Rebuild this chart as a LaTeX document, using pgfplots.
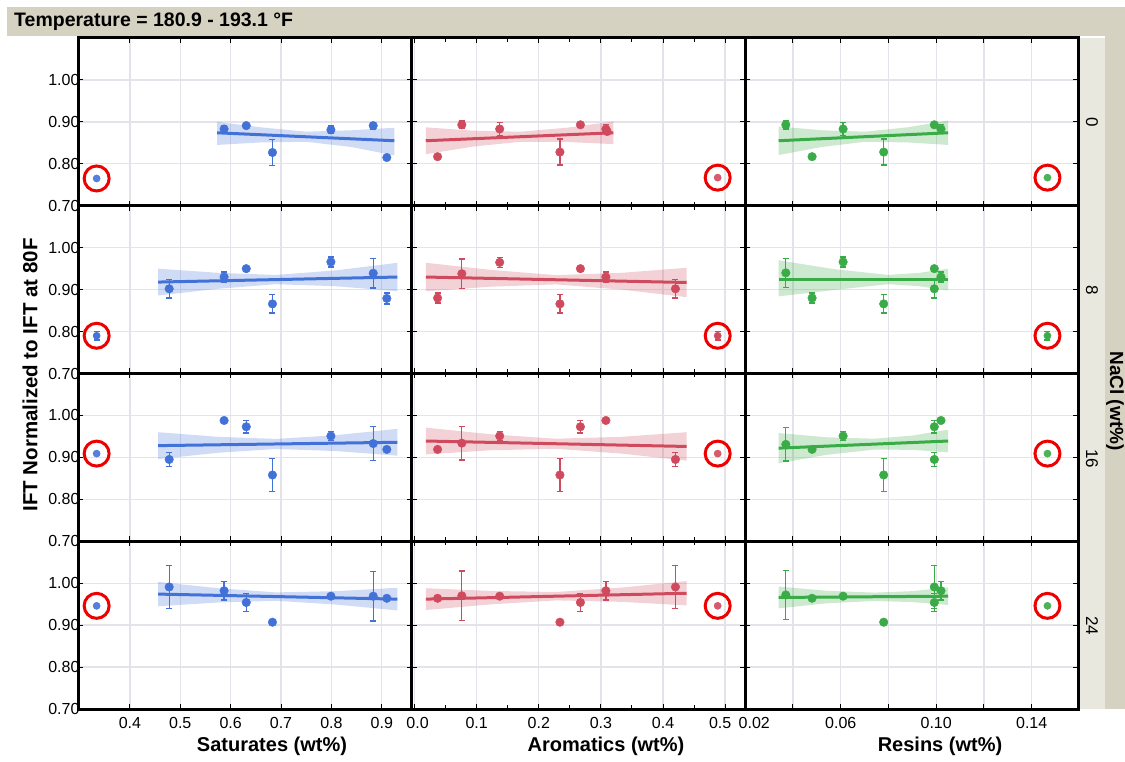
\documentclass[border=0pt]{standalone}
\usepackage{fontspec}
\setmainfont{Liberation Sans}
\usepackage{pgfplots}
\pgfplotsset{compat=1.18}
\definecolor{cb}{HTML}{4272D8}
\definecolor{cr}{HTML}{D04A5E}
\definecolor{cg}{HTML}{39AB47}
\definecolor{gridc}{HTML}{E3E3E9}
\definecolor{tanbar}{HTML}{D6D2C2}
\definecolor{stripc}{HTML}{E9E8DF}
\definecolor{ringc}{HTML}{EE0000}
\pgfplotsset{
  panel/.style={scale only axis, height=167.75pt, ymin=0.7, ymax=1.1,
    ytick={0.7,0.8,0.9,1.0}, yticklabels={},
    grid=major, major grid style={draw=gridc, line width=1.3pt},
    axis line style={line width=3pt, black},
    tick style={line width=1pt, black}, major tick length=5pt, minor tick length=4pt,
    tick label style={font=\fontsize{16}{18}\selectfont},
    /pgf/number format/assume math mode=true,
    xticklabel style={yshift=-5pt},
    yticklabel style={xshift=5pt},
    anchor=south west},
  col1/.style={width=333.5pt, xmin=0.297, xmax=0.959, xtick={0.4,0.5,0.6,0.7,0.8,0.9},
    xticklabels={0.4,0.5,0.6,0.7,0.8,0.9}, yticklabels={0.70,0.80,0.90,1.00}},
  col2/.style={width=333.5pt, xmin=-0.005, xmax=0.532, xtick={0,0.1,0.2,0.3,0.4,0.5},
    minor xtick={0.05,0.15,0.25,0.35,0.45},
    xticklabels={\hspace*{6pt}0.0,0.1,0.2,0.3,0.4,0.5\hspace*{10pt}}},
  col3/.style={width=333pt, xmin=0.0199, xmax=0.1594, xtick={0.02,0.04,0.06,0.08,0.10,0.12,0.14},
    xticklabels={\hspace*{18pt}0.02,,0.06,,0.10,,0.14}},
  nox/.style={xticklabels={}},
  band/.style={draw=none, fill=#1, fill opacity=0.25},
  fit/.style={#1, line width=3pt},
  pts/.style={#1, only marks, mark=*, mark size=4.3pt,
    error bars/y dir=both, error bars/y explicit,
    error bars/error mark=-,
    error bars/error bar style={line width=1.3pt, #1},
    error bars/error mark options={rotate=90, mark size=3pt, line width=1.3pt, #1}},
  outl/.style={#1, only marks, mark=*, mark size=3.6pt, opacity=0.9},
  ring/.style={ringc, only marks, mark=o, mark size=12.5pt, line width=3pt},
}
\begin{document}
\begin{tikzpicture}
\useasboundingbox (0pt,0pt) rectangle (1125pt,761pt);
% ================= ROW 1 (NaCl 0) =================
\begin{axis}[panel, col1, nox, at={(78pt,555.25pt)}]
\addplot[band=cb] coordinates {(0.573,0.845)(0.66,0.851)(0.75,0.8525)(0.84,0.840)(0.925,0.820)(0.925,0.886)(0.84,0.880)(0.75,0.8765)(0.66,0.887)(0.573,0.900)};
\addplot[fit=cb] coordinates {(0.573,0.874)(0.925,0.855)};
\addplot[pts=cb] coordinates {(0.587,0.883)+-(0,0.008) (0.631,0.891)+-(0,0) (0.683,0.827)+-(0,0.031) (0.799,0.881)+-(0,0.009) (0.883,0.891)+-(0,0.008) (0.910,0.815)+-(0,0)};
\addplot[outl=cb] coordinates {(0.334,0.765)};
\addplot[ring] coordinates {(0.334,0.765)};
\end{axis}
\begin{axis}[panel, col2, nox, at={(411.5pt,555.25pt)}]
\addplot[band=cr] coordinates {(0.018,0.823)(0.094,0.841)(0.17,0.8525)(0.245,0.852)(0.32,0.847)(0.32,0.901)(0.245,0.886)(0.17,0.8765)(0.094,0.879)(0.018,0.887)};
\addplot[fit=cr] coordinates {(0.018,0.855)(0.32,0.874)};
\addplot[pts=cr] coordinates {(0.037,0.817)+-(0,0) (0.076,0.893)+-(0,0.009) (0.137,0.883)+-(0,0.015) (0.234,0.828)+-(0,0.031) (0.267,0.893)+-(0,0) (0.308,0.883)+-(0,0.010) (0.310,0.877)+-(0,0.006)};
\addplot[outl=cr] coordinates {(0.488,0.767)};
\addplot[ring] coordinates {(0.488,0.767)};
\end{axis}
\begin{axis}[panel, col3, nox, at={(745pt,555.25pt)}]
\addplot[band=cg] coordinates {(0.034,0.821)(0.052,0.840)(0.07,0.8525)(0.088,0.851)(0.105,0.845)(0.105,0.903)(0.088,0.887)(0.07,0.8765)(0.052,0.880)(0.034,0.889)};
\addplot[fit=cg] coordinates {(0.034,0.855)(0.105,0.874)};
\addplot[pts=cg] coordinates {(0.037,0.893)+-(0,0.010) (0.048,0.817)+-(0,0) (0.061,0.883)+-(0,0.015) (0.078,0.828)+-(0,0.031) (0.0992,0.893)+-(0,0) (0.102,0.883)+-(0,0.010)};
\addplot[outl=cg] coordinates {(0.1466,0.767)};
\addplot[ring] coordinates {(0.1466,0.767)};
\end{axis}
% ================= ROW 2 (NaCl 8) =================
\begin{axis}[panel, col1, nox, at={(78pt,387.5pt)}]
\addplot[band=cb] coordinates {(0.456,0.886)(0.575,0.902)(0.69,0.913)(0.81,0.908)(0.931,0.896)(0.931,0.964)(0.81,0.946)(0.69,0.935)(0.575,0.940)(0.456,0.950)};
\addplot[fit=cb] coordinates {(0.456,0.918)(0.931,0.930)};
\addplot[pts=cb] coordinates {(0.478,0.902)+-(0,0.022) (0.587,0.930)+-(0,0.012) (0.631,0.950)+-(0,0) (0.683,0.866)+-(0,0.022) (0.799,0.966)+-(0,0.012) (0.883,0.939)+-(0,0.035) (0.910,0.879)+-(0,0.013)};
\addplot[pts=cb, mark size=3.6pt] coordinates {(0.334,0.790)+-(0,0.010)};
\addplot[ring] coordinates {(0.334,0.790)};
\end{axis}
\begin{axis}[panel, col2, nox, at={(411.5pt,387.5pt)}]
\addplot[band=cr] coordinates {(0.018,0.896)(0.123,0.907)(0.228,0.9125)(0.333,0.900)(0.438,0.882)(0.438,0.952)(0.333,0.940)(0.228,0.9345)(0.123,0.947)(0.018,0.964)};
\addplot[fit=cr] coordinates {(0.018,0.930)(0.438,0.917)};
\addplot[pts=cr] coordinates {(0.037,0.880)+-(0,0.012) (0.076,0.938)+-(0,0.035) (0.137,0.965)+-(0,0.012) (0.234,0.866)+-(0,0.022) (0.267,0.950)+-(0,0) (0.308,0.930)+-(0,0.012) (0.420,0.902)+-(0,0.022)};
\addplot[pts=cr, mark size=3.6pt] coordinates {(0.488,0.790)+-(0,0.010)};
\addplot[ring] coordinates {(0.488,0.790)};
\end{axis}
\begin{axis}[panel, col3, nox, at={(745pt,387.5pt)}]
\addplot[band=cg] coordinates {(0.034,0.884)(0.057,0.899)(0.08,0.913)(0.093,0.908)(0.105,0.898)(0.105,0.950)(0.093,0.940)(0.08,0.935)(0.057,0.949)(0.034,0.970)};
\addplot[fit=cg] coordinates {(0.034,0.924)(0.105,0.924)};
\addplot[pts=cg] coordinates {(0.037,0.940)+-(0,0.035) (0.048,0.880)+-(0,0.012) (0.061,0.966)+-(0,0.012) (0.078,0.866)+-(0,0.022) (0.0992,0.950)+-(0,0) (0.0992,0.902)+-(0,0.022) (0.102,0.930)+-(0,0.012)};
\addplot[pts=cg, mark size=3.6pt] coordinates {(0.1466,0.790)+-(0,0.010)};
\addplot[ring] coordinates {(0.1466,0.790)};
\end{axis}
% ================= ROW 3 (NaCl 16) =================
\begin{axis}[panel, col1, nox, at={(78pt,219.75pt)}]
\addplot[band=cb] coordinates {(0.456,0.896)(0.575,0.911)(0.69,0.920)(0.81,0.915)(0.931,0.904)(0.931,0.968)(0.81,0.953)(0.69,0.944)(0.575,0.949)(0.456,0.960)};
\addplot[fit=cb] coordinates {(0.456,0.928)(0.931,0.936)};
\addplot[pts=cb] coordinates {(0.478,0.895)+-(0,0.017) (0.587,0.988)+-(0,0) (0.631,0.973)+-(0,0.015) (0.683,0.858)+-(0,0.039) (0.799,0.951)+-(0,0.010) (0.883,0.933)+-(0,0.040) (0.910,0.919)+-(0,0)};
\addplot[outl=cb] coordinates {(0.334,0.909)};
\addplot[ring] coordinates {(0.334,0.909)};
\end{axis}
\begin{axis}[panel, col2, nox, at={(411.5pt,219.75pt)}]
\addplot[band=cr] coordinates {(0.018,0.907)(0.123,0.917)(0.228,0.9205)(0.333,0.909)(0.438,0.892)(0.438,0.960)(0.333,0.949)(0.228,0.9445)(0.123,0.955)(0.018,0.971)};
\addplot[fit=cr] coordinates {(0.018,0.939)(0.438,0.926)};
\addplot[pts=cr] coordinates {(0.037,0.919)+-(0,0) (0.076,0.934)+-(0,0.040) (0.137,0.951)+-(0,0.010) (0.234,0.858)+-(0,0.039) (0.267,0.973)+-(0,0.015) (0.308,0.988)+-(0,0) (0.420,0.895)+-(0,0.017)};
\addplot[outl=cr] coordinates {(0.488,0.909)};
\addplot[ring] coordinates {(0.488,0.909)};
\end{axis}
\begin{axis}[panel, col3, nox, at={(745pt,219.75pt)}]
\addplot[band=cg] coordinates {(0.034,0.886)(0.054,0.906)(0.074,0.9185)(0.09,0.918)(0.105,0.912)(0.105,0.966)(0.09,0.952)(0.074,0.9445)(0.054,0.948)(0.034,0.958)};
\addplot[fit=cg] coordinates {(0.034,0.922)(0.105,0.939)};
\addplot[pts=cg] coordinates {(0.037,0.931)+-(0,0.040) (0.048,0.919)+-(0,0) (0.061,0.951)+-(0,0.010) (0.078,0.858)+-(0,0.039) (0.0992,0.973)+-(0,0.015) (0.102,0.988)+-(0,0) (0.0992,0.895)+-(0,0.017)};
\addplot[outl=cg] coordinates {(0.1466,0.909)};
\addplot[ring] coordinates {(0.1466,0.909)};
\end{axis}
% ================= ROW 4 (NaCl 24) =================
\begin{axis}[panel, col1, at={(78pt,52pt)}]
\addplot[band=cb] coordinates {(0.456,0.945)(0.575,0.954)(0.69,0.958)(0.81,0.949)(0.931,0.935)(0.931,0.989)(0.81,0.981)(0.69,0.978)(0.575,0.988)(0.456,1.003)};
\addplot[fit=cb] coordinates {(0.456,0.974)(0.931,0.962)};
\addplot[pts=cb] coordinates {(0.478,0.991)+-(0,0.051) (0.587,0.982)+-(0,0.022) (0.631,0.954)+-(0,0.022) (0.683,0.907)+-(0,0) (0.799,0.969)+-(0,0) (0.883,0.969)+-(0,0.059) (0.910,0.964)+-(0,0)};
\addplot[outl=cb] coordinates {(0.334,0.946)};
\addplot[ring] coordinates {(0.334,0.946)};
\end{axis}
\begin{axis}[panel, col2, at={(411.5pt,52pt)}]
\addplot[band=cr] coordinates {(0.018,0.936)(0.123,0.9495)(0.228,0.959)(0.333,0.9555)(0.438,0.947)(0.438,1.005)(0.333,0.9895)(0.228,0.979)(0.123,0.9815)(0.018,0.988)};
\addplot[fit=cr] coordinates {(0.018,0.962)(0.438,0.976)};
\addplot[pts=cr] coordinates {(0.037,0.964)+-(0,0) (0.076,0.970)+-(0,0.059) (0.137,0.969)+-(0,0) (0.234,0.907)+-(0,0) (0.267,0.954)+-(0,0.022) (0.308,0.982)+-(0,0.022) (0.420,0.991)+-(0,0.051)};
\addplot[outl=cr] coordinates {(0.488,0.946)};
\addplot[ring] coordinates {(0.488,0.946)};
\end{axis}
\begin{axis}[panel, col3, at={(745pt,52pt)}]
\addplot[band=cg] coordinates {(0.034,0.940)(0.054,0.952)(0.074,0.9575)(0.09,0.955)(0.105,0.948)(0.105,0.990)(0.09,0.981)(0.074,0.9775)(0.054,0.982)(0.034,0.992)};
\addplot[fit=cg] coordinates {(0.034,0.966)(0.105,0.969)};
\addplot[pts=cg] coordinates {(0.037,0.972)+-(0,0.059) (0.048,0.964)+-(0,0) (0.061,0.969)+-(0,0) (0.078,0.907)+-(0,0) (0.0992,0.991)+-(0,0.051) (0.0992,0.954)+-(0,0.022) (0.102,0.982)+-(0,0.022)};
\addplot[outl=cg] coordinates {(0.1466,0.946)};
\addplot[ring] coordinates {(0.1466,0.946)};
\end{axis}
% ================= decorations =================
\fill[tanbar] (7pt,725pt) rectangle (1125pt,754pt);
\node[anchor=west, font=\bfseries\fontsize{19.5}{22}\selectfont, inner sep=0pt] at (14pt,739.5pt) {Temperature = 180.9 - 193.1 °F};
\fill[stripc] (1079.5pt,52pt) rectangle (1105pt,723pt);
\fill[tanbar] (1105pt,52pt) rectangle (1125pt,725pt);
\node[rotate=-90, font=\fontsize{17}{18}\selectfont] at (1092pt,638.5pt) {0};
\node[rotate=-90, font=\fontsize{17}{18}\selectfont] at (1092pt,470.5pt) {8};
\node[rotate=-90, font=\fontsize{17}{18}\selectfont] at (1092pt,302.5pt) {16};
\node[rotate=-90, font=\fontsize{17}{18}\selectfont] at (1092pt,135pt) {24};
\node[rotate=-90, anchor=base, font=\bfseries\fontsize{19}{20}\selectfont, inner sep=0pt] at (1110pt,360pt) {NaCl (wt\%)};
\node[rotate=90, font=\bfseries\fontsize{20.5}{22}\selectfont] at (30pt,386pt) {IFT Normalized to IFT at 80F};
\node[font=\bfseries\fontsize{20}{22}\selectfont] at (272pt,15pt) {Saturates (wt\%)};
\node[font=\bfseries\fontsize{20}{22}\selectfont] at (606pt,15pt) {Aromatics (wt\%)};
\node[font=\bfseries\fontsize{20}{22}\selectfont] at (940pt,15pt) {Resins (wt\%)};
\end{tikzpicture}
\end{document}
